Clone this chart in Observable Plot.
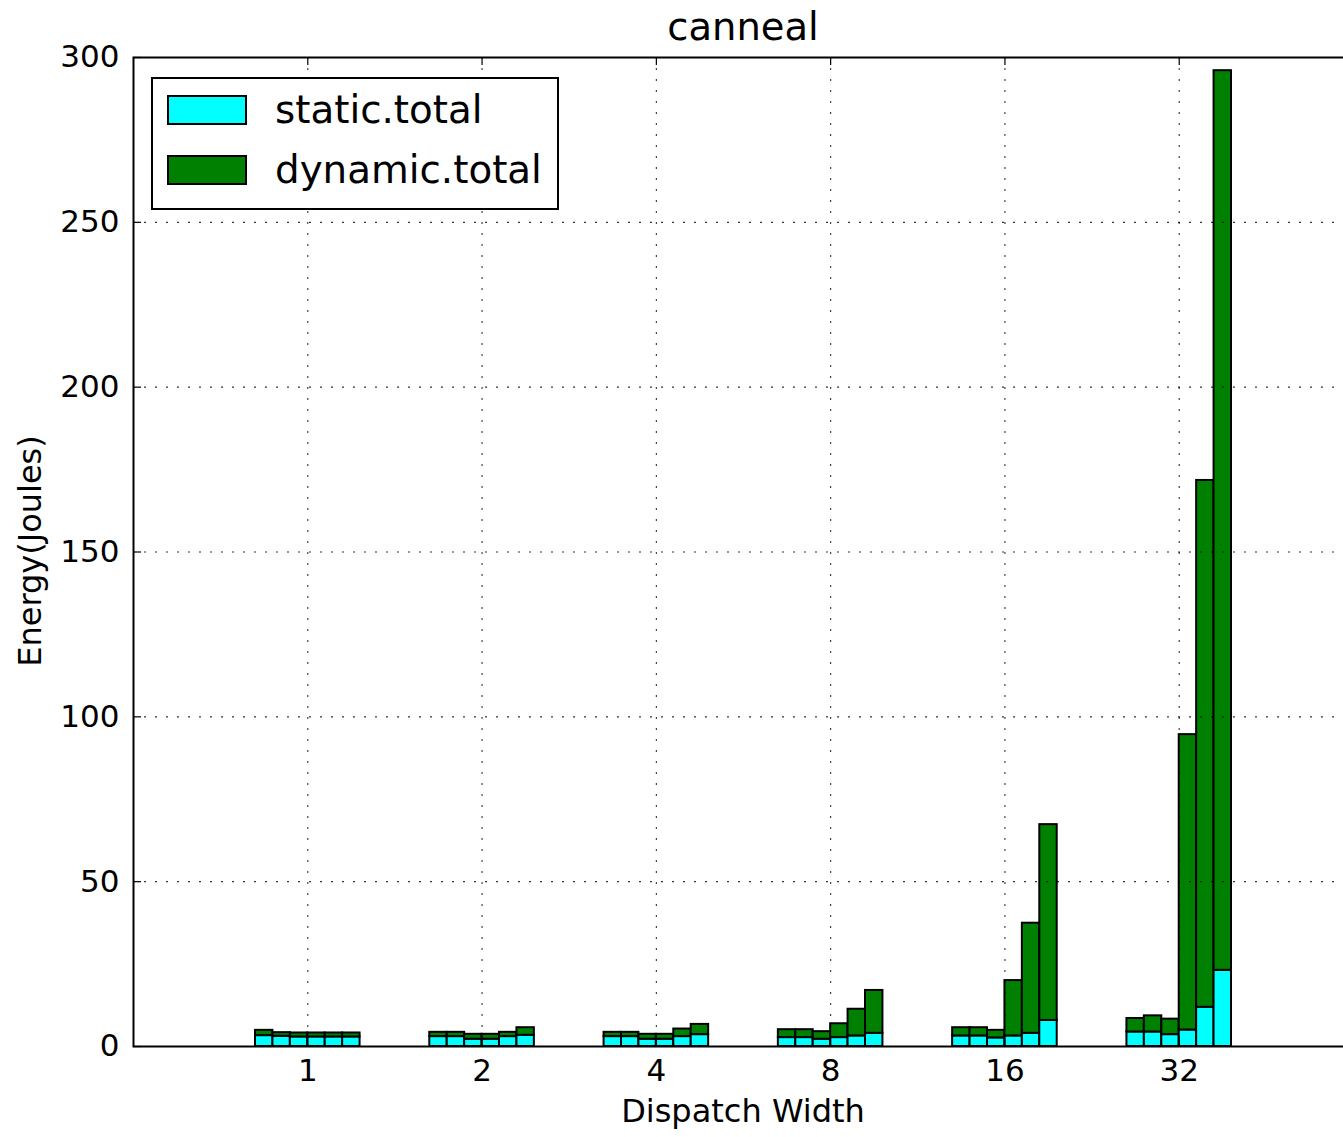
<!DOCTYPE html>
<html>
<head>
<meta charset="utf-8">
<script src="https://cdn.jsdelivr.net/npm/d3@7"></script>
<script src="https://cdn.jsdelivr.net/npm/@observablehq/plot@0.6"></script>
<style>
  html, body { margin: 0; padding: 0; background: #fff; overflow: hidden; }
  #wrap { position: relative; width: 1343px; height: 1137px; overflow: hidden; font-family: "DejaVu Sans", sans-serif; color: #000; }
  #chart { position: absolute; left: 0; top: 0; width: 1360px; }
  #chart svg { max-width: none !important; width: 1360px !important; height: 1137px !important; }
  .title { position: absolute; left: 0; width: 1486px; top: 4px; text-align: center; font-size: 38.5px; line-height: 46px; }
  .xlabel { position: absolute; left: 0; width: 1486px; top: 1091px; text-align: center; font-size: 32px; line-height: 40px; }
  .ylabel { position: absolute; left: 30px; top: 551px; font-size: 32px; line-height: 40px; white-space: nowrap; transform: translate(-50%, -50%) rotate(-90deg); }
  .legend { position: absolute; left: 151px; top: 77px; width: 404px; height: 129px; border: 2px solid #000; background: #fff; }
  .legend .row { position: absolute; left: 14px; height: 40px; display: flex; align-items: center; }
  .legend .sw { width: 76px; height: 26px; border: 2px solid #000; margin-right: 28px; }
  .legend .lab { font-size: 38.8px; line-height: 40px; }
</style>
</head>
<body>
<div id="wrap">
  <div id="chart"></div>
  <div class="title">canneal</div>
  <div class="xlabel">Dispatch Width</div>
  <div class="ylabel">Energy(Joules)</div>
  <div class="legend" id="legend"></div>
</div>
<script>
// ---- data ----
const dispatchWidths = ["1", "2", "4", "8", "16", "32"];
const seriesNames = ["static.total", "dynamic.total"];
const seriesColors = ["#00ffff", "#008000"];
// six bars per dispatch width
const staticTotal = [
  [3.3, 3.1, 2.9, 2.9, 2.9, 2.9],
  [3.0, 3.0, 2.2, 2.2, 3.0, 3.4],
  [3.0, 3.0, 2.2, 2.2, 3.0, 3.6],
  [2.7, 2.7, 2.2, 2.7, 3.2, 4.0],
  [3.2, 3.2, 2.6, 3.2, 4.0, 7.9],
  [4.4, 4.4, 3.6, 5.0, 11.9, 23.1]
];
const dynamicTotal = [
  [1.6, 1.1, 1.2, 1.2, 1.2, 1.2],
  [1.3, 1.3, 1.5, 1.5, 1.3, 2.3],
  [1.3, 1.3, 1.5, 1.5, 2.3, 3.1],
  [2.4, 2.4, 2.3, 4.2, 8.1, 13.0],
  [2.5, 2.5, 2.3, 16.8, 33.4, 59.4],
  [4.1, 4.9, 4.7, 89.6, 159.8, 272.9]
];
const yTicks = [0, 50, 100, 150, 200, 250, 300];

// ---- build table ----
const barWidth = 0.1;
const rows = [];
dispatchWidths.forEach((w, g) => {
  staticTotal[g].forEach((s, j) => {
    const d = dynamicTotal[g][j];
    const x1 = (g + 1) + (j - 3) * barWidth;
    rows.push({series: seriesNames[0], x1, x2: x1 + barWidth, y1: 0, y2: s});
    rows.push({series: seriesNames[1], x1, x2: x1 + barWidth, y1: s, y2: s + d});
  });
});
const xTicks = dispatchWidths.map((_, i) => i + 1);
const xFmt = d => dispatchWidths[Math.round(d) - 1];

const W = 1360, H = 1137;
const mL = 133, mR = 7, mT = 57, mB = 91;
const plotW = W - mL - mR, plotH = H - mT - mB;
const grid = {stroke: "#000", strokeOpacity: 0.8, strokeWidth: 1.1, strokeDasharray: "2,9"};

const chart = Plot.plot({
  width: W,
  height: H,
  marginLeft: mL, marginRight: mR, marginTop: mT, marginBottom: mB,
  style: {fontFamily: "DejaVu Sans, sans-serif", fontSize: "31px", color: "#000", background: "#fff", maxWidth: "none"},
  x: {domain: [0, 7], ticks: xTicks, tickFormat: xFmt},
  y: {domain: [0, 300], ticks: yTicks},
  color: {domain: seriesNames, range: seriesColors},
  marks: [
    Plot.rect(rows, {x1: "x1", x2: "x2", y1: "y1", y2: "y2", fill: "series", stroke: "#000", strokeWidth: 2}),
    Plot.ruleX(xTicks, {x: d => d, ...grid}),
    Plot.ruleY(yTicks.slice(1, -1), {y: d => d, ...grid}),
    // inward tick marks
    Plot.ruleX(xTicks, {x: d => d, insetTop: plotH - 8, stroke: "#000", strokeWidth: 1.2}),
    Plot.ruleX(xTicks, {x: d => d, insetBottom: plotH - 8, stroke: "#000", strokeWidth: 1.2}),
    Plot.ruleY(yTicks, {y: d => d, insetRight: plotW - 8, stroke: "#000", strokeWidth: 1.2}),
    Plot.ruleY(yTicks, {y: d => d, insetLeft: plotW - 8, stroke: "#000", strokeWidth: 1.2}),
    Plot.axisX(xTicks, {tickSize: 0, tickPadding: 12, label: null, fontSize: 31, tickFormat: xFmt}),
    Plot.axisY(yTicks, {tickSize: 0, tickPadding: 14, label: null, fontSize: 31}),
    Plot.frame({stroke: "#000", strokeWidth: 2})
  ]
});
chart.style.maxWidth = "none";
document.getElementById("chart").appendChild(chart);

// legend
const leg = document.getElementById("legend");
seriesNames.forEach((name, i) => {
  const row = document.createElement("div");
  row.className = "row";
  row.style.top = (i === 0 ? 11 : 71) + "px";
  const sw = document.createElement("div");
  sw.className = "sw";
  sw.style.background = seriesColors[i];
  const lab = document.createElement("div");
  lab.className = "lab";
  lab.textContent = name;
  row.appendChild(sw); row.appendChild(lab);
  leg.appendChild(row);
});
</script>
</body>
</html>
